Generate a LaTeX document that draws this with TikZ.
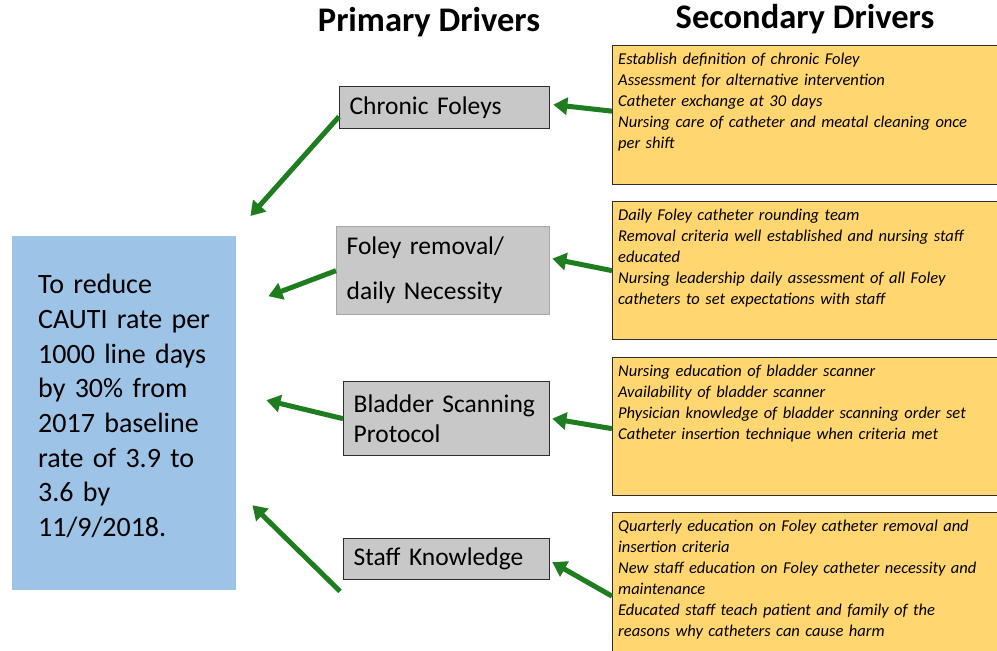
\documentclass[tikz,border=0pt]{standalone}
\usepackage{fontspec}
\setmainfont{Carlito}
\usetikzlibrary{arrows.meta}
\definecolor{goalblue}{RGB}{157,195,230}
\definecolor{pgray}{RGB}{200,200,200}
\definecolor{syellow}{RGB}{255,214,112}
\definecolor{agreen}{RGB}{30,125,30}
\definecolor{edgedark}{RGB}{45,45,45}
\begin{document}
\begin{tikzpicture}[x=1pt,y=-1pt,
  pbox/.style={draw=edgedark,line width=1.3pt,fill=pgray,anchor=north west,inner xsep=10pt,inner ysep=0pt,align=left,font=\fontsize{25.5}{30}\selectfont},
  sbox/.style={draw=edgedark,line width=1.3pt,fill=syellow,anchor=north west,minimum width=390pt,inner sep=0pt},
  stext/.style={anchor=north west,inner sep=0pt,text width=380pt,align=left,font=\fontsize{16.5}{21}\selectfont\itshape},
  hdr/.style={font=\fontsize{34.5}{38}\selectfont\bfseries},
  garrow/.style={draw=agreen,line width=5pt,-{Triangle[length=14pt,width=17pt]}}
]
\useasboundingbox (0,0) rectangle (997,651);
\fill[white] (0,0) rectangle (997,651);

% headers
\node[hdr] (h1) at (429,22) {Primary Drivers};
\node[hdr] (h2) at (805,19) {Secondary Drivers};

% goal
\node[fill=goalblue,anchor=north west,minimum width=224pt,minimum height=354pt,inner sep=0pt] (g) at (12,236) {};
\node[anchor=west,inner sep=0pt,text width=190pt,align=left,font=\fontsize{28}{34.7}\selectfont] (gt) at (38,406)
 {To reduce\\CAUTI rate per\\1000 line days\\by 30\% from\\2017 baseline\\rate of 3.9 to\\3.6 by\\11/9/2018.};

% primary drivers
\node[pbox,text width=190pt,minimum height=42pt] (p1) at (339,86) {Chronic Foleys};
\node[pbox,draw=gray!70,text width=193pt,minimum height=88pt,font=\fontsize{25.5}{45}\selectfont] (p2) at (336,226) {Foley removal/\\daily Necessity};
\node[pbox,text width=186pt,minimum height=74pt] (p3) at (343,381) {Bladder Scanning\\Protocol};
\node[pbox,text width=186pt,minimum height=41pt] (p4) at (343,538) {Staff Knowledge};

% secondary drivers
\node[sbox,minimum height=139pt] (s1) at (612,45) {};
\node[sbox,minimum height=138pt] (s2) at (612,201) {};
\node[sbox,minimum height=138pt] (s3) at (612,357) {};
\node[sbox,minimum height=145pt] (s4) at (612,512) {};

\node[stext] (t1) at ([xshift=6pt,yshift=-8pt]s1.north west)
 {Establish definition of chronic Foley\\Assessment for alternative intervention\\Catheter exchange at 30 days\\Nursing care of catheter and meatal cleaning once\\per shift};
\node[stext] (t2) at ([xshift=6pt,yshift=-8pt]s2.north west)
 {Daily Foley catheter rounding team\\Removal criteria well established and nursing staff\\educated\\Nursing leadership daily assessment of all Foley\\catheters to set expectations with staff};
\node[stext] (t3) at ([xshift=6pt,yshift=-8pt]s3.north west)
 {Nursing education of bladder scanner\\Availability of bladder scanner\\Physician knowledge of bladder scanning order set\\Catheter insertion technique when criteria met};
\node[stext] (t4) at ([xshift=6pt,yshift=-8pt]s4.north west)
 {Quarterly education on Foley catheter removal and\\insertion criteria\\New staff education on Foley catheter necessity and\\maintenance\\Educated staff teach patient and family of the\\reasons why catheters can cause harm};

% arrows secondary -> primary
\draw[garrow] ([yshift=4pt]s1.west) -- ([xshift=3pt,yshift=3pt]p1.east);
\draw[garrow] (s2.west) -- ([xshift=2pt,yshift=12pt]p2.east);
\draw[garrow] ([yshift=-2pt]s3.west) -- ([xshift=2pt]p3.east);
\draw[garrow] ([yshift=-11pt]s4.west) -- ([xshift=2pt,yshift=-3pt]p4.east);

% arrows primary -> goal
\draw[garrow] ([yshift=-9pt]p1.west) -- ([xshift=14pt,yshift=20pt]g.north east);
\draw[garrow] (p2.west) -- ([xshift=32pt,yshift=117pt]g.east);
\draw[garrow] (p3.west) -- ([xshift=30pt,yshift=13pt]g.east);
\draw[garrow] ([xshift=-3pt,yshift=-11pt]p4.south west) -- ([xshift=16pt,yshift=-92pt]g.east);
\end{tikzpicture}
\end{document}
